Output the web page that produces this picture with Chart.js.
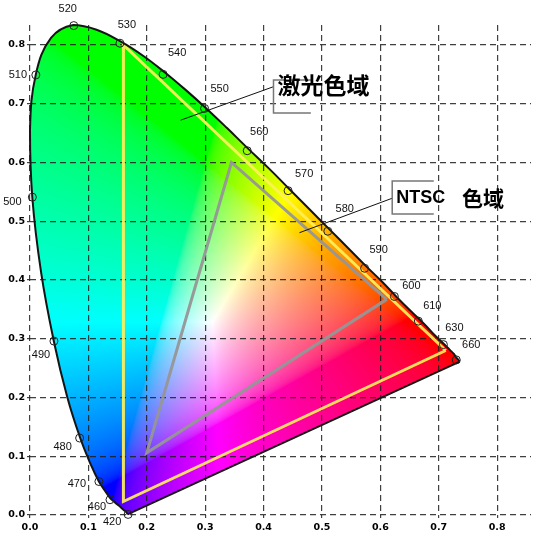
<!DOCTYPE html>
<html>
<head>
<meta charset="utf-8">
<script src="https://cdn.jsdelivr.net/npm/chart.js@4.4.1/dist/chart.umd.min.js"></script>
<style>
  html, body { margin: 0; padding: 0; background: #fff; }
  canvas { display: block; }
</style>
</head>
<body>
<canvas id="cie" width="536" height="536"></canvas>
<script>
// Spectral locus (wavelength nm, chromaticity x, y)
const locusNm = [420, 430, 440, 450, 455, 460, 465, 470, 475, 480, 485, 490, 495, 500, 505, 510, 515, 520, 525, 530, 535, 540, 545, 550, 555, 560, 565, 570, 575, 580, 585, 590, 595, 600, 605, 610, 615, 620, 630, 640, 650, 660, 680, 700];
const locusX = [0.167, 0.165, 0.160, 0.152, 0.146, 0.138, 0.130, 0.118, 0.104, 0.086, 0.064, 0.041, 0.019, 0.004, 0.000, 0.010, 0.036, 0.074, 0.114, 0.155, 0.193, 0.230, 0.266, 0.302, 0.337, 0.373, 0.409, 0.444, 0.479, 0.512, 0.545, 0.575, 0.603, 0.627, 0.648, 0.666, 0.680, 0.691, 0.708, 0.719, 0.726, 0.730, 0.733, 0.736];
const locusY = [0.001, 0.005, 0.009, 0.016, 0.021, 0.028, 0.039, 0.057, 0.086, 0.131, 0.200, 0.295, 0.413, 0.540, 0.655, 0.750, 0.812, 0.834, 0.826, 0.806, 0.782, 0.754, 0.724, 0.692, 0.659, 0.624, 0.590, 0.555, 0.520, 0.487, 0.454, 0.424, 0.397, 0.372, 0.351, 0.334, 0.320, 0.308, 0.292, 0.281, 0.274, 0.268, 0.265, 0.261];

// Labelled wavelength markers
const markNm = [420, 460, 470, 480, 490, 500, 510, 520, 530, 540, 550, 560, 570, 580, 590, 600, 610, 630, 660];
const markX = [0.168, 0.137, 0.118, 0.085, 0.041, 0.004, 0.010, 0.075, 0.154, 0.228, 0.299, 0.372, 0.442, 0.510, 0.573, 0.624, 0.665, 0.708, 0.730];
const markY = [0.001, 0.026, 0.057, 0.131, 0.296, 0.541, 0.749, 0.833, 0.803, 0.750, 0.692, 0.620, 0.552, 0.483, 0.420, 0.372, 0.330, 0.290, 0.264];

// Gamut triangles (R, G, B)
const laserX = [0.712, 0.160, 0.160];
const laserY = [0.280, 0.800, 0.023];
const ntscX = [0.611, 0.345, 0.200];
const ntscY = [0.367, 0.600, 0.106];

const xTicks = [0, 0.1, 0.2, 0.3, 0.4, 0.5, 0.6, 0.7, 0.8];
const yTicks = [0, 0.1, 0.2, 0.3, 0.4, 0.5, 0.6, 0.7, 0.8];

// label offsets from each marker, in pixels
const markLabelOffset = {
    420: [-16, 8], 460: [-13, 7], 470: [-22, 2], 480: [-17, 9], 490: [-13, 14],
    500: [-20, 5], 510: [-18, 0], 520: [-6, -17], 530: [7, -18], 540: [14, -21],
    550: [15, -19], 560: [12, -19], 570: [16, -17], 580: [17, -22], 590: [14, -18],
    600: [17, -10], 610: [14, -15], 630: [11, -17], 660: [15, -15]
};

// callouts, in data coordinates
const callouts = [
    { from: [0.258, 0.672], to: [0.417, 0.729], box: [0.417, 0.481, 0.7404, 0.6843],
      parts: [{ text: '激光色域', at: [0.4237, 0.731], font: 'bold 23px "Noto Sans CJK SC"' }] },
    { from: [0.4615, 0.4805], to: [0.620, 0.539], box: [0.6203, 0.6915, 0.5685, 0.5123],
      parts: [{ text: 'NTSC', at: [0.6271, 0.5396], font: 'bold 18px "Liberation Sans"' },
              { text: '色域', at: [0.7400, 0.5396], font: 'bold 21px "Noto Sans CJK SC"' }] }
];

const toPoints = (xs, ys) => xs.map((v, i) => ({ x: v, y: ys[i] }));
const closed = (xs, ys) => { const p = toPoints(xs, ys); p.push(p[0]); return p; };
const last = locusX.length - 1;

// chromaticity -> display colour (clipped, max-normalised sRGB)
function chromaToRgb(cx, cy) {
    const yy = Math.max(cy, 0.002);
    const X = cx / yy, Z = (1 - cx - yy) / yy;
    let r = 3.2406 * X - 1.5372 - 0.4986 * Z;
    let g = -0.9689 * X + 1.8758 + 0.0415 * Z;
    let b = 0.0557 * X - 0.2040 + 1.0570 * Z;
    r = Math.max(r, 0); g = Math.max(g, 0); b = Math.max(b, 0);
    const m = Math.max(r, g, b) || 1;
    return [r / m, g / m, b / m].map(c =>
        Math.round(255 * (c <= 0.0031308 ? 12.92 * c : 1.055 * Math.pow(c, 1 / 2.4) - 0.055)));
}

const gamutFill = {
    id: 'gamutFill',
    beforeDraw(chart) {
        const { ctx, width, height, scales: { x, y } } = chart;
        ctx.save();
        ctx.fillStyle = '#fff';
        ctx.fillRect(0, 0, width, height);

        const off = document.createElement('canvas');
        off.width = width;
        off.height = height;
        const octx = off.getContext('2d');
        const img = octx.createImageData(width, height);
        for (let j = 0; j < height; j++) {
            const vy = y.getValueForPixel(j + 0.5);
            if (vy < -0.02 || vy > 0.9) continue;
            for (let i = 0; i < width; i++) {
                const vx = x.getValueForPixel(i + 0.5);
                if (vx < -0.02 || vx > 0.78) continue;
                const c = chromaToRgb(vx, vy);
                const k = (j * width + i) * 4;
                img.data[k] = c[0];
                img.data[k + 1] = c[1];
                img.data[k + 2] = c[2];
                img.data[k + 3] = 255;
            }
        }
        octx.putImageData(img, 0, 0);

        // clip to the smoothed locus drawn by the 'locus' dataset + purple line
        const meta = chart.getDatasetMeta(1);
        const line = meta.dataset;
        ctx.beginPath();
        if (line && typeof line.path === 'function') {
            line.updateControlPoints(chart.chartArea, 'x');
            line.path(ctx);
        } else {
            locusX.forEach((v, i) => {
                const px = x.getPixelForValue(v), py = y.getPixelForValue(locusY[i]);
                if (i === 0) ctx.moveTo(px, py); else ctx.lineTo(px, py);
            });
        }
        ctx.lineTo(x.getPixelForValue(locusX[0]), y.getPixelForValue(locusY[0]));
        ctx.closePath();
        ctx.clip();
        ctx.drawImage(off, 0, 0, width, height);
        ctx.restore();
    }
};

const labelsAndNotes = {
    id: 'labelsAndNotes',
    afterDatasetsDraw(chart) {
        const { ctx, scales: { x, y } } = chart;
        const P = (pt) => [x.getPixelForValue(pt[0]), y.getPixelForValue(pt[1])];
        ctx.save();

        // wavelength labels
        ctx.font = '11px "Liberation Sans"';
        ctx.fillStyle = '#111';
        ctx.textAlign = 'center';
        ctx.textBaseline = 'middle';
        markNm.forEach((nm, i) => {
            const [px, py] = P([markX[i], markY[i]]);
            const o = markLabelOffset[nm];
            ctx.fillText(String(nm), px + o[0], py + o[1]);
        });

        // callouts
        callouts.forEach(c => {
            const a = P(c.from), b = P(c.to);
            ctx.strokeStyle = '#111';
            ctx.lineWidth = 1;
            ctx.beginPath();
            ctx.moveTo(a[0], a[1]);
            ctx.lineTo(b[0], b[1]);
            ctx.stroke();

            const l = x.getPixelForValue(c.box[0]), r = x.getPixelForValue(c.box[1]);
            const t = y.getPixelForValue(c.box[2]), btm = y.getPixelForValue(c.box[3]);
            ctx.strokeStyle = '#777';
            ctx.lineWidth = 1.5;
            ctx.beginPath();
            ctx.moveTo(r, t);
            ctx.lineTo(l, t);
            ctx.lineTo(l, btm);
            ctx.lineTo(r, btm);
            ctx.stroke();

            ctx.fillStyle = '#000';
            ctx.textAlign = 'left';
            c.parts.forEach(p => {
                const q = P(p.at);
                ctx.font = p.font;
                ctx.fillText(p.text, q[0], q[1]);
            });
        });
        ctx.restore();
    }
};

const gridCommon = {
    color: 'rgba(30,30,30,0.85)',
    lineWidth: 1.2,
    tickLength: 3
};

new Chart(document.getElementById('cie'), {
    type: 'scatter',
    data: {
        datasets: [
            {
                label: 'markers',
                data: toPoints(markX, markY),
                pointStyle: 'circle',
                pointRadius: 4,
                pointBorderColor: '#222',
                pointBorderWidth: 1,
                pointBackgroundColor: 'rgba(0,0,0,0)',
                showLine: false,
                clip: false,
                order: 0
            },
            {
                label: 'locus',
                data: toPoints(locusX, locusY),
                borderColor: '#151515',
                borderWidth: 2,
                pointRadius: 0,
                showLine: true,
                tension: 0.4,
                clip: false,
                order: 1
            },
            {
                label: 'purple line',
                data: [
                    { x: locusX[last], y: locusY[last] },
                    { x: locusX[0], y: locusY[0] }
                ],
                borderColor: '#151515',
                borderWidth: 2,
                pointRadius: 0,
                showLine: true,
                clip: false,
                order: 1
            },
            {
                label: 'NTSC',
                data: closed(ntscX, ntscY),
                borderColor: 'rgba(150,150,150,0.95)',
                borderWidth: 3,
                pointRadius: 0,
                showLine: true,
                clip: false,
                order: 2
            },
            {
                label: 'laser',
                data: closed(laserX, laserY),
                borderColor: 'rgba(255,240,90,0.92)',
                borderWidth: 3,
                pointRadius: 0,
                showLine: true,
                clip: false,
                order: 3
            }
        ]
    },
    options: {
        responsive: false,
        animation: false,
        events: [],
        layout: { padding: { top: 25, right: 0, bottom: 0, left: 0 } },
        plugins: {
            legend: { display: false },
            tooltip: { enabled: false }
        },
        scales: {
            x: {
                type: 'linear',
                min: 0,
                max: 0.858,
                afterFit: (s) => { s.height = 21; },
                afterBuildTicks: (s) => { s.ticks = xTicks.map(v => ({ value: v })); },
                grid: gridCommon,
                border: { display: false, dash: [6, 4] },
                ticks: {
                    color: '#000',
                    padding: 4,
                    maxRotation: 0,
                    font: { family: '"DejaVu Sans"', size: 9.5, weight: 'bold' },
                    callback: (v) => Number(v).toFixed(1)
                }
            },
            y: {
                type: 'linear',
                min: 0,
                max: 0.834,
                afterFit: (s) => { s.width = 30; },
                afterBuildTicks: (s) => { s.ticks = yTicks.map(v => ({ value: v })); },
                grid: gridCommon,
                border: { display: false, dash: [6, 4] },
                ticks: {
                    color: '#000',
                    padding: 2,
                    font: { family: '"DejaVu Sans"', size: 9.5, weight: 'bold' },
                    callback: (v) => Number(v).toFixed(1)
                }
            }
        }
    },
    plugins: [gamutFill, labelsAndNotes]
});
</script>
</body>
</html>
